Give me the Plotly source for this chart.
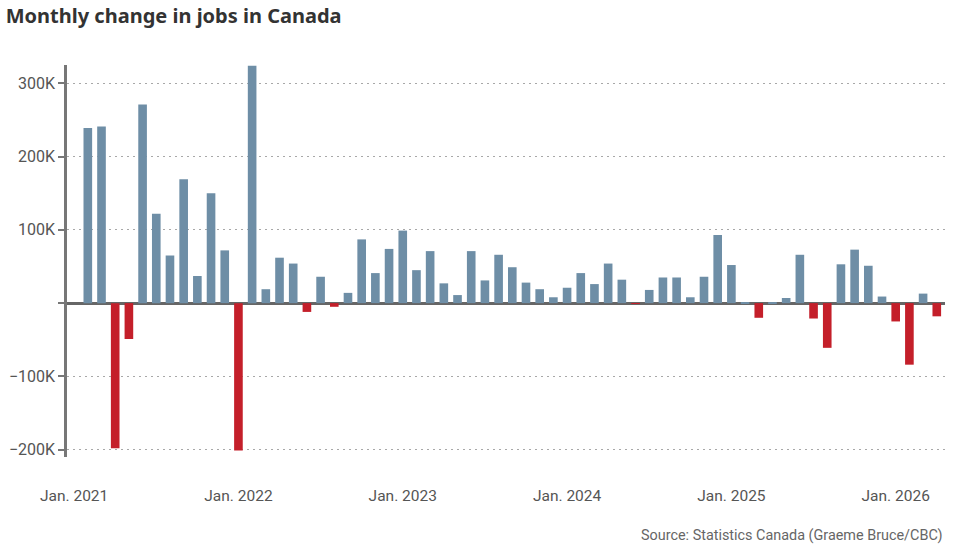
import plotly.graph_objects as go

months = [
    "Feb 2021","Mar 2021","Apr 2021","May 2021","Jun 2021","Jul 2021","Aug 2021","Sep 2021","Oct 2021","Nov 2021","Dec 2021",
    "Jan 2022","Feb 2022","Mar 2022","Apr 2022","May 2022","Jun 2022","Jul 2022","Aug 2022","Sep 2022","Oct 2022","Nov 2022","Dec 2022",
    "Jan 2023","Feb 2023","Mar 2023","Apr 2023","May 2023","Jun 2023","Jul 2023","Aug 2023","Sep 2023","Oct 2023","Nov 2023","Dec 2023",
    "Jan 2024","Feb 2024","Mar 2024","Apr 2024","May 2024","Jun 2024","Jul 2024","Aug 2024","Sep 2024","Oct 2024","Nov 2024","Dec 2024",
    "Jan 2025","Feb 2025","Mar 2025","Apr 2025","May 2025","Jun 2025","Jul 2025","Aug 2025","Sep 2025","Oct 2025","Nov 2025","Dec 2025",
    "Jan 2026","Feb 2026","Mar 2026","Apr 2026",
]
# month index counted from Jan 2021 = 0
month_index = list(range(1, 1 + len(months)))

# monthly change in jobs, thousands
changes_k = [
    239, 241, -198, -49, 271, 122, 65, 169, 37, 150, 72,
    -201, 324, 19, 62, 54, -12, 36, -5, 14, 87, 41, 74,
    99, 45, 71, 27, 11, 71, 31, 66, 49, 28, 19, 8,
    21, 41, 26, 54, 32, -1, 18, 35, 35, 8, 36, 93,
    52, 1, -20, 1, 7, 66, -21, -61, 53, 73, 51, 9,
    -25, -84, 13, -18,
]

tick_index = [0, 12, 24, 36, 48, 60]
tick_text = ["Jan. 2021", "Jan. 2022", "Jan. 2023", "Jan. 2024", "Jan. 2025", "Jan. 2026"]
y_ticks = [-200000, -100000, 0, 100000, 200000, 300000]
y_tick_text = ["\u2212200K", "\u2212100K", "", "100K", "200K", "300K"]

values = [v * 1000 for v in changes_k]
colors = ["#6e8ea6" if v >= 0 else "#c41f2a" for v in values]

fig = go.Figure(go.Bar(
    x=month_index, y=values, marker=dict(color=colors, line=dict(width=0)),
    width=0.63, hoverinfo="x+y",
))

fig.update_layout(
    width=960, height=553,
    margin=dict(l=67, r=15, t=65, b=96, autoexpand=False),
    paper_bgcolor="white", plot_bgcolor="white",
    showlegend=False,
    font=dict(family="Roboto", color="#555"),
    title=dict(text="<b>Monthly change in jobs in Canada</b>", x=0.006, xanchor="left",
               y=0.971, yanchor="middle", font=dict(family="Noto Sans", size=20, color="#333")),
    xaxis=dict(range=[-0.52, 63.6], tickmode="array", tickvals=tick_index, ticktext=tick_text,
               showgrid=False, zeroline=False, showline=False, ticks="", automargin=False,
               tickfont=dict(size=15.5, color="#555"), ticklabelstandoff=27),
    yaxis=dict(range=[-210000, 325000], tickmode="array", tickvals=y_ticks, ticktext=y_tick_text,
               showgrid=True, gridcolor="#a8a8a8", griddash="2px,4px", gridwidth=1,
               zeroline=True, zerolinecolor="#666", zerolinewidth=3, automargin=False,
               showline=True, linecolor="#777", linewidth=2.5,
               ticks="outside", ticklen=6, tickwidth=2, tickcolor="#777",
               tickfont=dict(size=16, color="#555")),
    annotations=[dict(text="Source: Statistics Canada (Graeme Bruce/CBC)", xref="paper", yref="paper",
                      x=1.0, y=-0.2, xanchor="right", yanchor="middle", showarrow=False,
                      font=dict(size=14.4, color="#666"))],
)

fig.write_html("out.html")
